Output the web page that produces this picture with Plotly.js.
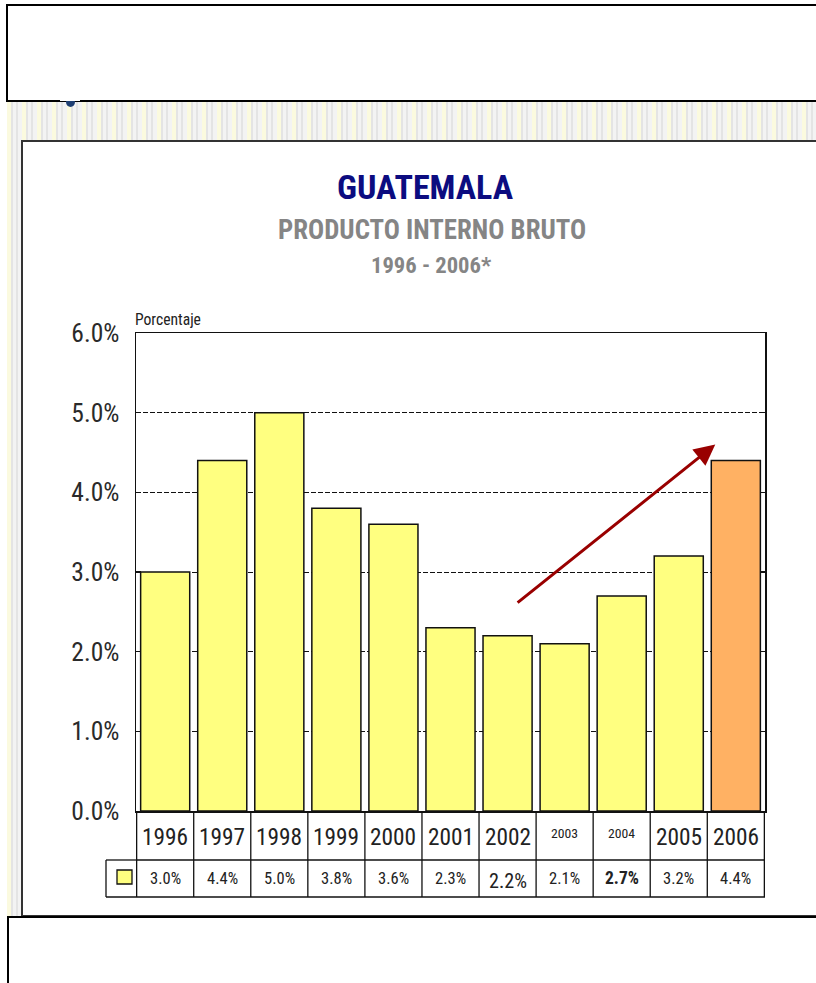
<!DOCTYPE html>
<html>
<head>
<meta charset="utf-8">
<script src="https://cdn.plot.ly/plotly-3.0.1.min.js"></script>
<style>
  html, body { margin: 0; padding: 0; background: #ffffff; }
  #bg {
    position: absolute; left: 7px; top: 100px; width: 820px; height: 820px;
    background: repeating-linear-gradient(90deg,
      #fbfadf 0px, #fbfadf 4px,
      #e4e4e4 4px, #e4e4e4 6px,
      #f3f3f3 6px, #f3f3f3 9px,
      #e4e4e4 9px, #e4e4e4 11px,
      #f3f3f3 11px, #f3f3f3 15px);
  }
  #chart { position: absolute; left: 0; top: 0; width: 816px; height: 983px; }
</style>
</head>
<body>
<div id="bg"></div>
<div id="chart"></div>
<script>
// ---- data ----
const years = ['1996','1997','1998','1999','2000','2001','2002','2003','2004','2005','2006'];
const values = [3.0, 4.4, 5.0, 3.8, 3.6, 2.3, 2.2, 2.1, 2.7, 3.2, 4.4];
const valueLabels = ['3.0%','4.4%','5.0%','3.8%','3.6%','2.3%','2.2%','2.1%','2.7%','3.2%','4.4%'];
const titleMain = 'GUATEMALA';
const titleSub = 'PRODUCTO INTERNO BRUTO';
const titlePeriod = '1996 - 2006*';
const yAxisLabel = 'Porcentaje';

// ---- font selection: prefer a narrow sans, size text to match the reference widths ----
const cvs = document.createElement('canvas');
const ctx = cvs.getContext('2d');
function widthOf(text, fam, bold) {
  ctx.font = (bold ? 'bold ' : '') + '100px ' + fam;
  return ctx.measureText(text).width / 100;
}
function hasFont(f) {
  const s = 'mmmmmmmmmmlli1O0WW';
  return ['monospace', 'serif'].some(b => widthOf(s, '"' + f + '", ' + b) !== widthOf(s, b));
}
const cands = ['Liberation Sans Narrow', 'Arial Narrow', 'Nimbus Sans Narrow', 'Roboto Condensed', 'Liberation Sans', 'Arial'];
const chosen = cands.find(hasFont) || 'sans-serif';
const FN = '"' + chosen + '", "Liberation Sans", Arial, sans-serif';
const fit = (text, px, bold) => Math.round(10 * px / widthOf(text, FN, bold)) / 10;

// ---- page geometry helpers (pixels -> paper) ----
const W = 816, H = 983;
const px = v => v / W;
const py = v => 1 - v / H;

const plotL = 136, plotR = 765, plotT = 333, plotB = 811;
const row1B = 860, row2B = 897, tableL = 106;

const yellow = '#ffff80', orange = '#ffb163';
const barColors = years.map((y, i) => i === years.length - 1 ? orange : yellow);

const tickSize = fit('0.0%', 48, false);
const yearSize = fit('1996', 46, false);
const valSize = fit('3.0%', 31, false);
// style overrides for individual table cells
const yearStyle = { '2003': {size: fit('2003', 27, false), dy: -4}, '2004': {size: fit('2004', 27, false), dy: -4} };
const valStyle = { 6: {size: fit('2.2%', 38, false), dy: 3}, 8: {bold: true, size: fit('2.7%', 34, true)} };

const traces = [{
  type: 'bar',
  x: years,
  y: values,
  marker: { color: barColors, line: { color: '#111', width: 1.5 } },
  hoverinfo: 'skip'
}];

const shapes = [];
// page boxes
shapes.push({type:'rect', xref:'paper', yref:'paper', x0:px(7), x1:px(830), y0:py(5), y1:py(101),
  fillcolor:'#ffffff', line:{color:'#000', width:2}, layer:'below'});
shapes.push({type:'rect', xref:'paper', yref:'paper', x0:px(22), x1:px(830), y0:py(141), y1:py(916),
  fillcolor:'#ffffff', line:{color:'#333', width:2}, layer:'below'});
shapes.push({type:'rect', xref:'paper', yref:'paper', x0:px(8), x1:px(830), y0:py(917), y1:py(1000),
  fillcolor:'#ffffff', line:{color:'#000', width:2}, layer:'below'});
// small partial glyph below the top box
shapes.push({type:'circle', xref:'paper', yref:'paper', x0:px(66), x1:px(75), y0:py(107), y1:py(97),
  fillcolor:'#1f3f73', line:{width:0}, layer:'below'});
shapes.push({type:'rect', xref:'paper', yref:'paper', x0:px(60), x1:px(80), y0:py(101), y1:py(96),
  fillcolor:'#ffffff', line:{width:0}, layer:'below'});

// table grid
const lineC = {color:'#111', width:1.3};
shapes.push({type:'line', xref:'paper', yref:'paper', x0:px(plotL), x1:px(plotR), y0:py(row1B), y1:py(row1B), line:lineC});
shapes.push({type:'line', xref:'paper', yref:'paper', x0:px(tableL), x1:px(plotL), y0:py(row1B), y1:py(row1B), line:lineC});
shapes.push({type:'line', xref:'paper', yref:'paper', x0:px(tableL), x1:px(plotR), y0:py(row2B), y1:py(row2B), line:lineC});
shapes.push({type:'line', xref:'paper', yref:'paper', x0:px(tableL), x1:px(tableL), y0:py(row1B), y1:py(row2B), line:lineC});
for (let k = 0; k <= years.length; k++) {
  shapes.push({type:'line', xref:'x', yref:'paper', x0:k-0.5, x1:k-0.5, y0:py(plotB), y1:py(row2B), line:lineC});
}
// legend key square
shapes.push({type:'rect', xref:'paper', yref:'paper', x0:px(117), x1:px(132), y0:py(870), y1:py(884),
  fillcolor:yellow, line:{color:'#111', width:1.3}});

const annotations = [];
annotations.push({text:'<b>'+titleMain+'</b>', xref:'paper', yref:'paper', x:px(425), y:py(187),
  showarrow:false, font:{family:FN, size:fit(titleMain, 176, true), color:'#0c0c80'}, xanchor:'center', yanchor:'middle'});
annotations.push({text:'<b>'+titleSub+'</b>', xref:'paper', yref:'paper', x:px(432), y:py(230),
  showarrow:false, font:{family:FN, size:fit(titleSub, 308, true), color:'#858585'}, xanchor:'center', yanchor:'middle'});
annotations.push({text:'<b>'+titlePeriod+'</b>', xref:'paper', yref:'paper', x:px(431), y:py(265),
  showarrow:false, font:{family:FN, size:fit(titlePeriod, 120, true), color:'#858585'}, xanchor:'center', yanchor:'middle'});
annotations.push({text:yAxisLabel, xref:'paper', yref:'paper', x:px(133), y:py(320),
  showarrow:false, font:{family:FN, size:fit(yAxisLabel, 66, false), color:'#222'}, xanchor:'left', yanchor:'middle'});

years.forEach((yr, i) => {
  const st = yearStyle[yr] || {};
  annotations.push({text:yr, xref:'x', yref:'paper', x:i, y:py(837 + (st.dy||0)),
    showarrow:false, font:{family:FN, size:st.size||yearSize, color:'#222'}, xanchor:'center', yanchor:'middle'});
  const vs = valStyle[i] || {};
  annotations.push({text: vs.bold ? '<b>'+valueLabels[i]+'</b>' : valueLabels[i], xref:'x', yref:'paper', x:i, y:py(878 + (vs.dy||0)),
    showarrow:false, font:{family:FN, size:vs.size||valSize, color:'#222'}, xanchor:'center', yanchor:'middle'});
});

// trend arrow
annotations.push({x:9.64, y:4.6, xref:'x', yref:'y', ax:6.15, ay:2.6, axref:'x', ayref:'y',
  text:'', showarrow:true, arrowhead:2, arrowsize:1.4, arrowwidth:3, arrowcolor:'#990000', standoff:0});

const layout = {
  width: W, height: H,
  margin: {l:0, r:0, t:0, b:0},
  paper_bgcolor: 'rgba(0,0,0,0)',
  plot_bgcolor: '#ffffff',
  showlegend: false,
  bargap: 0.14,
  xaxis: {
    domain: [px(plotL), px(plotR)],
    type: 'category',
    showticklabels: false,
    ticks: '',
    showgrid: false,
    showline: true, linecolor:'#111', linewidth:1.5, mirror:true,
    fixedrange: true
  },
  yaxis: {
    domain: [py(plotB), py(plotT)],
    range: [0, 6],
    dtick: 1,
    tickformat: '.1f',
    ticksuffix: '%',
    ticks: 'inside', ticklen: 5, tickcolor:'#111', tickwidth:1.5,
    showline: true, linecolor:'#111', linewidth:1.5, mirror:'ticks',
    showgrid: true, gridcolor:'#111', gridwidth:1, griddash:'5px,2px',
    zeroline: false,
    ticklabelstandoff: 10,
    tickfont: {family:FN, size:tickSize, color:'#2a2a2a'},
    fixedrange: true
  },
  shapes: shapes,
  annotations: annotations
};

Plotly.newPlot('chart', traces, layout, {displayModeBar:false, staticPlot:true});
</script>
</body>
</html>
